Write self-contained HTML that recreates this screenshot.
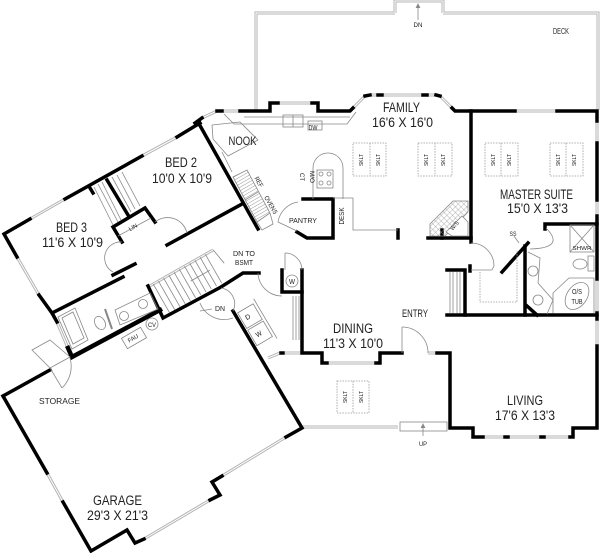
<!DOCTYPE html>
<html><head><meta charset="utf-8"><style>
html,body{margin:0;padding:0;background:#fff}
svg{display:block}
text{font-family:"Liberation Sans Narrow","Liberation Sans",sans-serif;fill:#222}
.w{fill:none;stroke:#000;stroke-width:3.5;stroke-linecap:square;stroke-linejoin:miter}
.t{fill:none;stroke:#888;stroke-width:0.8}
.d{fill:none;stroke:#999;stroke-width:0.8;stroke-dasharray:1.5 1.2}
</style></head><body>
<svg width="600" height="553" viewBox="0 0 600 553" xmlns="http://www.w3.org/2000/svg">
<defs>
<pattern id="hat" width="3" height="3" patternUnits="userSpaceOnUse" patternTransform="rotate(60)"><line x1="0" y1="0" x2="0" y2="3" stroke="#999" stroke-width="1"/></pattern>
<pattern id="tile" width="4" height="4" patternUnits="userSpaceOnUse" patternTransform="rotate(45)"><path d="M0 0H4M0 0V4" stroke="#999" stroke-width="0.7" fill="none"/></pattern>
</defs>

<!-- windows / deck (gray double lines) -->
<g stroke="#b4b4b4" stroke-width="3" fill="none">
<g id="wn">
<polyline points="256,110 256,13 395,13"/>
<polyline points="443,13 598,13 598,110"/>
<polyline points="395,13 395,1 443,1 443,13"/>
<line x1="202" y1="118" x2="217" y2="111"/>
<line x1="222" y1="111" x2="240" y2="111"/>
<line x1="278" y1="103" x2="312" y2="103"/>
<line x1="353" y1="108" x2="365" y2="96"/>
<line x1="370" y1="95" x2="378" y2="95"/>
<line x1="382" y1="95" x2="423" y2="95"/>
<line x1="427" y1="95" x2="436" y2="95"/>
<line x1="440" y1="96" x2="452" y2="108"/>
<line x1="515" y1="111" x2="557" y2="111"/>
<line x1="597" y1="121" x2="597" y2="143"/>
<line x1="597" y1="200" x2="597" y2="216"/>
<line x1="597" y1="279" x2="597" y2="313"/>
<line x1="597" y1="319" x2="597" y2="346"/>
<line x1="483" y1="437" x2="570" y2="437"/>
<line x1="327" y1="363" x2="376" y2="363"/>
<line x1="428" y1="353" x2="437" y2="353"/>
<line x1="303" y1="427" x2="398" y2="427"/>
<line x1="268" y1="358" x2="280" y2="353"/>
<line x1="285" y1="353" x2="302" y2="353"/>
<line x1="30" y1="219" x2="65" y2="199"/>
<line x1="142" y1="156" x2="177" y2="137"/>
<line x1="17" y1="257" x2="39" y2="295"/>
<line x1="57" y1="322" x2="68" y2="348"/>
<line x1="47" y1="473" x2="63" y2="502"/>
<line x1="144" y1="539" x2="210" y2="500"/>
<line x1="222" y1="476" x2="286" y2="437"/>
<line x1="148" y1="287" x2="213" y2="250"/>
</g>
</g>
<use href="#wn" stroke="#fff" stroke-width="1" fill="none"/>

<!-- thick walls -->
<g class="w">
<polyline points="195,123 202,118"/>
<polyline points="217,111 222,111"/>
<polyline points="240,111 270,111 270,103 278,103"/>
<polyline points="312,103 318,103 318,111 350,111 353,108"/>
<polyline points="365,96 370,95"/>
<line x1="378" y1="95" x2="382" y2="95"/>
<line x1="423" y1="95" x2="427" y2="95"/>
<polyline points="436,95 440,96"/>
<polyline points="452,108 455,111 515,111"/>
<polyline points="557,111 597,111 597,121"/>
<line x1="597" y1="143" x2="597" y2="200"/>
<line x1="597" y1="216" x2="597" y2="279"/>
<line x1="597" y1="313" x2="597" y2="319"/>
<polyline points="597,346 597,428 573,428 573,437 570,437"/>
<line x1="505" y1="437" x2="508" y2="437"/>
<line x1="541" y1="437" x2="544" y2="437"/>
<polyline points="483,437 473,437 473,428 450,428 450,353 437,353"/>
<polyline points="402,353 380,353 380,363 376,363"/>
<polyline points="327,363 322,363 322,353 302,353 302,270"/>
<line x1="281" y1="353" x2="283" y2="353"/>
<polyline points="302,292 282,292 282,270"/>
<line x1="471" y1="111" x2="471" y2="242"/>
<line x1="428" y1="238" x2="471" y2="238"/>
<line x1="442" y1="230" x2="442" y2="238"/>
<polyline points="447,270 465,270 465,315"/>
<line x1="470" y1="266" x2="470" y2="271"/>
<line x1="447" y1="315" x2="597" y2="315"/>
<line x1="502" y1="272" x2="528" y2="243"/>
<line x1="525" y1="246" x2="525" y2="315"/>
<polyline points="545,229 545,224 597,224"/>
<line x1="527" y1="306" x2="537" y2="315"/>
<line x1="198" y1="122" x2="258" y2="229"/>
<polyline points="303,199 333,199 333,238 307,238 297,232"/>
<line x1="398" y1="230" x2="398" y2="238"/>
<polyline points="39,295 52,313 123,277"/>
<polyline points="17,257 4,234 30,219"/>
<line x1="65" y1="199" x2="142" y2="156"/>
<line x1="177" y1="137" x2="200" y2="123"/>
<line x1="107" y1="180" x2="128" y2="215"/>
<line x1="90" y1="188" x2="93" y2="193"/>
<polyline points="122,242 113,227 145,208 155,222"/>
<line x1="113" y1="275" x2="135" y2="264"/>
<line x1="167" y1="245" x2="242" y2="204"/>
<polyline points="148,286 163,318 221,287 243,273 259,273"/>
<line x1="52" y1="313" x2="57" y2="322"/>
<polyline points="68,348 72,357 160,310" stroke-width="4.5"/>
<line x1="3" y1="396" x2="50" y2="370"/>
<line x1="47" y1="473" x2="3" y2="396"/>
<polyline points="63,502 91,551 127,530 135,543 144,539"/>
<polyline points="210,500 220,495 212,482 222,476"/>
<polyline points="286,437 302,428 233,311"/>
</g>

<!-- thin details -->
<g class="t">
<!-- deck DN arrow -->
<line x1="418" y1="20" x2="418" y2="5"/><path d="M416,8 L418,4 L420,8" fill="#888"/>
<!-- kitchen counter -->
<polyline points="224,114 234,124 347,124 356,112"/>
<line x1="244" y1="117" x2="350" y2="117"/>
<rect x="283" y="115" width="20" height="12"/>
<line x1="293" y1="115" x2="293" y2="127"/>
<rect x="308" y="121" width="14" height="9"/>
<!-- nook table -->
<polygon points="212,125 240,122 258,140 228,156 213,139" stroke-linejoin="round"/>
<line x1="222" y1="152" x2="232" y2="172"/>
<!-- ref/ovens -->
<polygon points="233,177 247,170 270,213 257,222" fill="url(#hat)"/>
<line x1="245" y1="200" x2="258" y2="192"/>
<polyline points="257,222 262,230 273,224 270,213"/>
<!-- cooktop island -->
<path d="M313,199 V168 A15,15 0 0 1 343,168 V199"/>
<rect x="317" y="170" width="16" height="18"/>
<circle cx="321" cy="174" r="2"/><circle cx="329" cy="174" r="2"/><circle cx="321" cy="183" r="2"/><circle cx="329" cy="183" r="2"/>
<!-- pantry -->
<path d="M298,202 A24,24 0 0 0 278,222 L297,231"/>
<!-- desk -->
<polyline points="333,198 353,198 353,230 398,230"/>
<!-- W/S -->
<polygon points="430,236 430,224 453,201 468,201 468,212 445,236" fill="url(#tile)"/>
<polygon points="446,232 462,216 468,222 468,236 452,236" fill="#fff"/>
<!-- skylights -->
<rect class="d" x="353" y="143" width="33" height="33"/><line class="d" x1="370" y1="143" x2="370" y2="176"/>
<rect class="d" x="418" y="143" width="34" height="33"/><line class="d" x1="435" y1="143" x2="435" y2="176"/>
<rect class="d" x="485" y="143" width="33" height="33"/><line class="d" x1="501" y1="143" x2="501" y2="176"/>
<rect class="d" x="550" y="143" width="33" height="33"/><line class="d" x1="566" y1="143" x2="566" y2="176"/>
<rect class="d" x="337" y="381" width="32" height="32"/><line class="d" x1="353" y1="381" x2="353" y2="413"/>
<!-- coat closet -->
<line x1="450" y1="272" x2="450" y2="313"/><line x1="453" y1="272" x2="453" y2="313"/><line x1="457" y1="272" x2="457" y2="313"/><line x1="460" y1="272" x2="460" y2="313"/>
<line x1="471" y1="270" x2="492" y2="270"/>
<path d="M471,243 A23,23 0 0 1 494,266 L492,270"/>
<!-- master closet -->
<path class="d" d="M480,272 V302 H517 V250"/>
<line x1="514" y1="236" x2="519" y2="243"/>
<!-- master bath -->
<path d="M546,228 Q566,248 530,249"/>
<rect x="570" y="225" width="24" height="27"/>
<line x1="570" y1="225" x2="594" y2="252"/><line x1="594" y1="225" x2="570" y2="252"/>
<rect x="588" y="256" width="6" height="15"/>
<ellipse cx="580" cy="264" rx="7" ry="5"/>
<polyline points="528,252 540,258 538,283 553,300 547,314"/>
<circle cx="533" cy="271" r="5"/><circle cx="538" cy="300" r="5"/>
<polyline points="553,313 553,293 569,278 594,278 594,313"/>
<ellipse cx="577" cy="296" rx="15" ry="10" transform="rotate(-55 577 296)"/>
<!-- bed wing -->
<path d="M122,242 A16,16 0 0 0 113,272"/>
<path d="M155,222 A20,20 0 0 1 187,233"/>
<line x1="94" y1="187" x2="113" y2="225"/><line x1="98" y1="184" x2="118" y2="222"/><line x1="102" y1="182" x2="121" y2="220"/>
<line x1="112" y1="177" x2="131" y2="212"/><line x1="117" y1="175" x2="135" y2="209"/><line x1="122" y1="172" x2="140" y2="206"/>
<line x1="118" y1="236" x2="151" y2="218"/>
<!-- stairs -->
<g transform="translate(148,287) rotate(-29.65)">
<line x1="6" y1="0" x2="6" y2="33"/><line x1="12" y1="0" x2="12" y2="33"/><line x1="18" y1="0" x2="18" y2="33"/><line x1="24" y1="0" x2="24" y2="33"/><line x1="30" y1="0" x2="30" y2="33"/><line x1="36" y1="0" x2="36" y2="33"/><line x1="42" y1="0" x2="42" y2="33"/><line x1="48" y1="0" x2="48" y2="33"/><line x1="54" y1="0" x2="54" y2="33"/><line x1="60" y1="0" x2="60" y2="33"/><line x1="66" y1="0" x2="66" y2="33"/>
<line x1="75" y1="0" x2="78" y2="17"/>
<line x1="40" y1="16" x2="62" y2="16"/>
</g>
<!-- landing -->
<path d="M221,288 A16,16 0 0 1 233,311"/>
<path d="M200,303 A26,26 0 0 0 233,318"/>
<line x1="212" y1="309" x2="200" y2="311"/>
<!-- laundry -->
<line x1="285" y1="253" x2="285" y2="270"/>
<path d="M285,253 A17,17 0 0 1 302,270"/>
<circle cx="292" cy="281" r="6"/>
<line x1="293" y1="296" x2="293" y2="340"/><line x1="296" y1="296" x2="296" y2="340"/><line x1="299" y1="296" x2="299" y2="340"/>
<path d="M258,273 A24,24 0 0 0 282,296"/>
<g transform="translate(233,311) rotate(-30.5)">
<rect x="3" y="4" width="18" height="18"/><rect x="3" y="24" width="18" height="18"/>
<line x1="24" y1="0" x2="24" y2="46"/>
</g>
<!-- bath -->
<polygon points="58,317 75,308 88,340 72,349"/>
<polygon points="62,318 73,312 84,338 73,344"/>
<ellipse cx="100" cy="323" rx="5" ry="7" transform="rotate(-30 100 323)"/>
<line x1="105" y1="309" x2="112" y2="329" stroke-width="2"/>
<polygon points="115,310 150,293 158,309 120,325"/>
<circle cx="124" cy="316" r="4.5"/><circle cx="143" cy="304" r="4.5"/>
<g transform="translate(134,338) rotate(-30)"><rect x="-11" y="-6" width="22" height="12"/></g>
<circle cx="152" cy="324" r="6"/>
<!-- storage -->
<polygon points="32,350 50,340 70,357 50,368"/>
<line x1="50" y1="368" x2="62" y2="388"/>
<path d="M62,388 A30,30 0 0 0 70,358"/>
<!-- dining door, front -->
<line x1="402" y1="327" x2="402" y2="353"/>
<path d="M402,327 A26,26 0 0 1 428,353"/>
<rect x="400" y="422" width="47" height="9"/>
<line x1="423" y1="436" x2="423" y2="425"/><path d="M421,428 L423,424 L425,428" fill="#888"/>
</g>

<!-- labels -->
<g text-anchor="middle">
<text x="561" y="34" font-size="8.5" textLength="16" lengthAdjust="spacingAndGlyphs">DECK</text>
<text x="418" y="27" font-size="6" textLength="9" lengthAdjust="spacingAndGlyphs">DN</text>
<text x="401.5" y="112" font-size="13.5" textLength="37" lengthAdjust="spacingAndGlyphs">FAMILY</text>
<text x="402.5" y="127" font-size="13.5" textLength="61" lengthAdjust="spacingAndGlyphs">16'6 X 16'0</text>
<text x="242.5" y="145" font-size="11.5" textLength="28" lengthAdjust="spacingAndGlyphs">NOOK</text>
<text x="536.5" y="199" font-size="13.5" textLength="73" lengthAdjust="spacingAndGlyphs">MASTER SUITE</text>
<text x="537.5" y="213" font-size="13.5" textLength="61" lengthAdjust="spacingAndGlyphs">15'0 X 13'3</text>
<text x="181" y="167" font-size="13.5" textLength="32" lengthAdjust="spacingAndGlyphs">BED 2</text>
<text x="182" y="183" font-size="13.5" textLength="60" lengthAdjust="spacingAndGlyphs">10'0 X 10'9</text>
<text x="71.5" y="232" font-size="13.5" textLength="31" lengthAdjust="spacingAndGlyphs">BED 3</text>
<text x="72.5" y="247" font-size="13.5" textLength="61" lengthAdjust="spacingAndGlyphs">11'6 X 10'9</text>
<text x="353" y="333" font-size="13.5" textLength="40" lengthAdjust="spacingAndGlyphs">DINING</text>
<text x="353" y="348" font-size="13.5" textLength="60" lengthAdjust="spacingAndGlyphs">11'3 X 10'0</text>
<text x="415" y="317" font-size="11" textLength="26" lengthAdjust="spacingAndGlyphs">ENTRY</text>
<text x="525" y="405" font-size="13.5" textLength="36" lengthAdjust="spacingAndGlyphs">LIVING</text>
<text x="525" y="420" font-size="13.5" textLength="60" lengthAdjust="spacingAndGlyphs">17'6 X 13'3</text>
<text x="117.5" y="505" font-size="13.5" textLength="49" lengthAdjust="spacingAndGlyphs">GARAGE</text>
<text x="117.5" y="520" font-size="13.5" textLength="61" lengthAdjust="spacingAndGlyphs">29'3 X 21'3</text>
<text x="59.5" y="404" font-size="8.5" textLength="41" lengthAdjust="spacingAndGlyphs">STORAGE</text>
<text x="244" y="256" font-size="7" textLength="22" lengthAdjust="spacingAndGlyphs">DN TO</text>
<text x="244" y="265" font-size="7" textLength="18" lengthAdjust="spacingAndGlyphs">BSMT</text>
<text x="220" y="311" font-size="7" textLength="10" lengthAdjust="spacingAndGlyphs">DN</text>
<text x="303" y="223" font-size="7" textLength="28" lengthAdjust="spacingAndGlyphs">PANTRY</text>
<text x="313" y="130" font-size="7" textLength="9" lengthAdjust="spacingAndGlyphs">DW</text>
<text x="513" y="236" font-size="6" textLength="7" lengthAdjust="spacingAndGlyphs">SS</text>
<text x="582" y="250" font-size="5" textLength="19" lengthAdjust="spacingAndGlyphs">SHWR</text>
<text x="577" y="294" font-size="7" textLength="10" lengthAdjust="spacingAndGlyphs">O/S</text>
<text x="577" y="304" font-size="7" textLength="11" lengthAdjust="spacingAndGlyphs">TUB</text>
<text x="292" y="284" font-size="7" textLength="6" lengthAdjust="spacingAndGlyphs">W</text>
<text x="152" y="327" font-size="6" textLength="8" lengthAdjust="spacingAndGlyphs">CV</text>
<text x="423" y="446" font-size="6" textLength="8" lengthAdjust="spacingAndGlyphs">UP</text>
<text transform="translate(344,216) rotate(-90)" font-size="7" textLength="17" lengthAdjust="spacingAndGlyphs">DESK</text>
<text transform="translate(300,177) rotate(90)" font-size="6.5" textLength="8" lengthAdjust="spacingAndGlyphs">CT</text>
<text transform="translate(310,177) rotate(90)" font-size="6.5" textLength="12" lengthAdjust="spacingAndGlyphs">M/O</text>
<text transform="translate(257,183) rotate(60)" font-size="6.5" textLength="11" lengthAdjust="spacingAndGlyphs">REF</text>
<text transform="translate(269,206) rotate(60)" font-size="6.5" textLength="20" lengthAdjust="spacingAndGlyphs">OVENS</text>
<text transform="translate(456,227) rotate(-50)" font-size="6" textLength="10" lengthAdjust="spacingAndGlyphs">W/S</text>
<text transform="translate(134,229) rotate(-30)" font-size="6" textLength="9" lengthAdjust="spacingAndGlyphs">LIN</text>
<text transform="translate(134,340) rotate(-30)" font-size="6" textLength="11" lengthAdjust="spacingAndGlyphs">FAU</text>
<text transform="translate(249,319) rotate(-30.5)" font-size="7" textLength="5" lengthAdjust="spacingAndGlyphs">D</text>
<text transform="translate(260,336) rotate(-30.5)" font-size="7" textLength="6" lengthAdjust="spacingAndGlyphs">W</text>
<g font-size="5" fill="#555">
<text transform="translate(363,160) rotate(-90)" textLength="12" lengthAdjust="spacingAndGlyphs">SKLT</text>
<text transform="translate(380,160) rotate(-90)" textLength="12" lengthAdjust="spacingAndGlyphs">SKLT</text>
<text transform="translate(428,160) rotate(-90)" textLength="12" lengthAdjust="spacingAndGlyphs">SKLT</text>
<text transform="translate(445,160) rotate(-90)" textLength="12" lengthAdjust="spacingAndGlyphs">SKLT</text>
<text transform="translate(495,160) rotate(-90)" textLength="12" lengthAdjust="spacingAndGlyphs">SKLT</text>
<text transform="translate(511,160) rotate(-90)" textLength="12" lengthAdjust="spacingAndGlyphs">SKLT</text>
<text transform="translate(560,160) rotate(-90)" textLength="12" lengthAdjust="spacingAndGlyphs">SKLT</text>
<text transform="translate(576,160) rotate(-90)" textLength="12" lengthAdjust="spacingAndGlyphs">SKLT</text>
<text transform="translate(347,397) rotate(-90)" textLength="12" lengthAdjust="spacingAndGlyphs">SKLT</text>
<text transform="translate(363,397) rotate(-90)" textLength="12" lengthAdjust="spacingAndGlyphs">SKLT</text>
</g>
</g>
</svg>
</body></html>
